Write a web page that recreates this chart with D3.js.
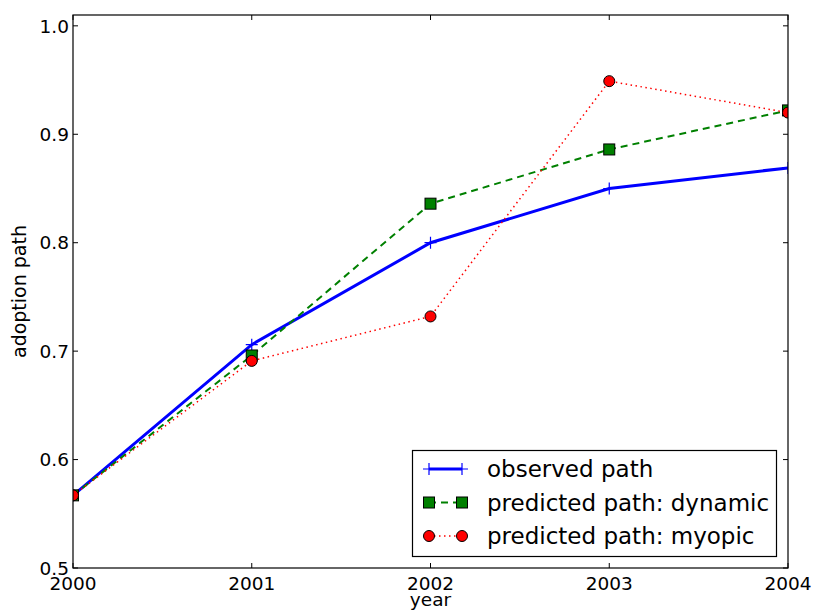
<!DOCTYPE html>
<html>
<head>
<meta charset="utf-8">
<script src="https://cdn.jsdelivr.net/npm/d3@7"></script>
<style>
  body { margin: 0; background: #fff; }
  text { font-family: "DejaVu Sans", sans-serif; }
</style>
</head>
<body>
<div id="root"></div>
<script>
const width = 816;
const height = 610;

const years = [2000, 2001, 2002, 2003, 2004];
const observed = [0.567, 0.706, 0.800, 0.850, 0.869];
const dynamic = [0.567, 0.696, 0.836, 0.886, 0.922];
const myopic = [0.567, 0.691, 0.732, 0.949, 0.920];
const yTicks = [0.5, 0.6, 0.7, 0.8, 0.9, 1.0];
const seriesNames = ['observed path', 'predicted path: dynamic', 'predicted path: myopic'];

const padding = {left: 73, right: 28, top: 15, bottom: 42};

const svg = d3.select('#root')
  .append('svg')
  .attr('width', width).attr('height', height);

const xScale = d3.scaleLinear()
  .domain([2000, 2004])
  .range([padding.left, width - padding.right]);

const yScale = d3.scaleLinear()
  .domain([0.5, 1.01])
  .range([height - padding.bottom, padding.top]);

const x0 = padding.left, x1 = width - padding.right;
const y0 = height - padding.bottom, y1 = padding.top;

// ticks (inward, both sides)
const tick = 5;
const g = svg.append('g');
years.forEach(yr => {
  const x = xScale(yr);
  g.append('line').attr('x1', x).attr('x2', x).attr('y1', y0).attr('y2', y0 - tick).attr('stroke', '#000');
  g.append('line').attr('x1', x).attr('x2', x).attr('y1', y1).attr('y2', y1 + tick).attr('stroke', '#000');
  g.append('text').attr('x', x).attr('y', y0 + 22).attr('text-anchor', 'middle')
    .attr('font-size', 18.5).text(yr);
});
yTicks.forEach(v => {
  const y = yScale(v);
  g.append('line').attr('x1', x0).attr('x2', x0 + tick).attr('y1', y).attr('y2', y).attr('stroke', '#000');
  g.append('line').attr('x1', x1).attr('x2', x1 - tick).attr('y1', y).attr('y2', y).attr('stroke', '#000');
  g.append('text').attr('x', x0 - 4).attr('y', y).attr('dy', '0.36em').attr('text-anchor', 'end')
    .attr('font-size', 18.5).text(d3.format('.1f')(v));
});

svg.append('text').attr('x', (x0 + x1) / 2).attr('y', 606).attr('text-anchor', 'middle')
  .attr('font-size', 18.5).text('year');
svg.append('text').attr('transform', `translate(26, ${(y0 + y1) / 2}) rotate(-90)`)
  .attr('text-anchor', 'middle').attr('font-size', 19).text('adoption path');

const line = d3.line().x((d, i) => xScale(years[i])).y(d => yScale(d));

svg.append('clipPath').attr('id', 'clip')
  .append('rect').attr('x', x0).attr('y', y1).attr('width', x1 - x0).attr('height', y0 - y1);

const plot = svg.append('g').attr('clip-path', 'url(#clip)');

const styles = [
  {data: observed, color: '#0000ff', width: 3, dash: null, marker: 'plus'},
  {data: dynamic, color: '#008000', width: 2, dash: '7,5', marker: 'square'},
  {data: myopic, color: '#ff0000', width: 1.5, dash: '1.5,3.5', marker: 'circle'}
];

function drawMarker(sel, type, color, x, y) {
  if (type === 'plus') {
    sel.append('path').attr('d', `M${x - 6},${y}H${x + 6}M${x},${y - 6}V${y + 6}`)
      .attr('stroke', color).attr('stroke-width', 1.2).attr('fill', 'none');
  } else if (type === 'square') {
    sel.append('rect').attr('x', x - 5.5).attr('y', y - 5.5).attr('width', 11).attr('height', 11)
      .attr('fill', color).attr('stroke', '#000').attr('stroke-width', 1);
  } else {
    sel.append('circle').attr('cx', x).attr('cy', y).attr('r', 5.5)
      .attr('fill', color).attr('stroke', '#000').attr('stroke-width', 1);
  }
}

styles.forEach(s => {
  plot.append('path').datum(s.data)
    .attr('d', line)
    .attr('fill', 'none')
    .attr('stroke', s.color)
    .attr('stroke-width', s.width)
    .attr('stroke-dasharray', s.dash);
});
styles.forEach(s => {
  s.data.forEach((d, i) => drawMarker(plot, s.marker, s.color, xScale(years[i]), yScale(d)));
});

// frame
svg.append('rect').attr('x', x0).attr('y', y1).attr('width', x1 - x0).attr('height', y0 - y1)
  .attr('fill', 'none').attr('stroke', '#000').attr('stroke-width', 1.2);

// legend
const leg = svg.append('g');
leg.append('rect').attr('x', 412.5).attr('y', 450.5).attr('width', 364).attr('height', 106)
  .attr('fill', '#fff').attr('stroke', '#000').attr('stroke-width', 1.2);
styles.forEach((s, i) => {
  const y = 469 + i * 33.5;
  leg.append('line').attr('x1', 429).attr('x2', 462).attr('y1', y).attr('y2', y)
    .attr('stroke', s.color).attr('stroke-width', s.width).attr('stroke-dasharray', s.dash);
  drawMarker(leg, s.marker, s.color, 429, y);
  drawMarker(leg, s.marker, s.color, 462, y);
  leg.append('text').attr('x', 487).attr('y', y).attr('dy', '0.36em')
    .attr('font-size', 23).text(seriesNames[i]);
});
</script>
</body>
</html>
